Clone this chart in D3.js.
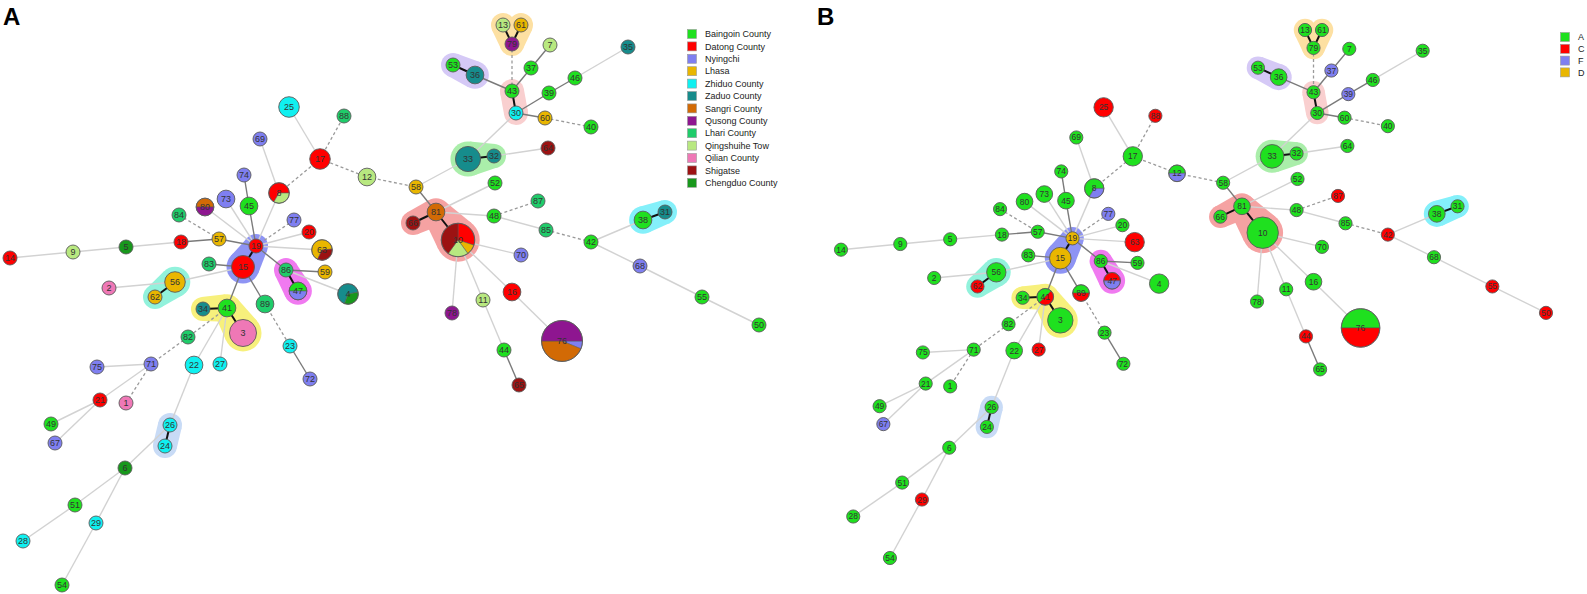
<!DOCTYPE html>
<html>
<head>
<meta charset="utf-8">
<script src="https://cdn.jsdelivr.net/npm/d3@7"></script>
<style>
body { margin: 0; background: #fff; }
text { font-family: "Liberation Sans", Arial, sans-serif; }
</style>
</head>
<body>
<svg width="1587" height="594"></svg>
<script>
// legend categories
const counties = ["Baingoin County", "Datong County", "Nyingchi", "Lhasa", "Zhiduo County", "Zaduo County",
    "Sangri County", "Qusong County", "Lhari County", "Qingshuihe Tow", "Qilian County", "Shigatse", "Chengduo County"];
const countyColors = ["#1fe01f", "#ff0000", "#7f7ff0", "#e9b600", "#10f0f0", "#168c8c",
    "#d26a05", "#8e1690", "#1fcc6a", "#b8e880", "#ef78b6", "#9c1212", "#18981c"];
const groups = ["A", "C", "F", "D"];
const groupColors = ["#1fe01f", "#ff0000", "#7f7ff0", "#e9b600"];

// ST layout (layout units)
const layout = [
    [1,126,403],[2,109,288],[3,243,333],[4,348,294],[5,126,247],[6,125,468],[7,550,45],[8,279,193],
    [9,73,252],[10,458,240],[11,483,300],[12,367,177],[13,503,25],[14,10,258],[15,243,267],[16,512,292],
    [17,320,159],[18,181,242],[19,256,246],[20,309,232],[21,100,400],[22,194,365],[23,290,346],[24,165,446],
    [25,289,107],[26,170,425],[27,220,364],[28,23,541],[29,96,523],[30,516,113],[31,665,212],[32,494,156],
    [33,468,159],[34,203,309],[35,628,47],[36,475,75],[37,531,68],[38,643,220],[39,549,93],[40,591,127],
    [41,227,308],[42,591,242],[43,512,91],[44,504,350],[45,249,206],[46,575,78],[47,298,291],[48,494,216],
    [49,51,424],[50,759,325],[51,75,505],[52,495,183],[53,453,65],[54,62,585],[55,702,297],[56,175,282],
    [57,219,239],[58,416,187],[59,325,272],[60,545,118],[61,521,25],[62,155,297],[63,322,250],[64,548,148],
    [65,519,385],[66,413,223],[67,55,443],[68,640,266],[69,260,139],[70,521,255],[71,151,364],[72,310,379],
    [73,226,199],[74,244,175],[75,97,367],[76,562,341],[77,294,220],[78,452,313],[79,512,44],[80,205,207],
    [81,436,212],[82,188,337],[83,209,264],[84,179,215],[85,546,230],[86,286,270],[87,538,201],[88,344,116],
    [89,265,304]
];

// isolates per ST and county (panel A)
const stCounty = [
    [1,"Qilian County",1],[2,"Qilian County",1],[3,"Qilian County",6],[4,"Zaduo County",2],[4,"Chengduo County",1],
    [5,"Chengduo County",1],[6,"Chengduo County",1],[7,"Qingshuihe Tow",1],[8,"Datong County",2],[8,"Qingshuihe Tow",1],
    [9,"Qingshuihe Tow",1],[10,"Datong County",3],[10,"Lhasa",1],[10,"Qingshuihe Tow",2],[10,"Shigatse",4],
    [11,"Qingshuihe Tow",1],[12,"Qingshuihe Tow",2],[13,"Qingshuihe Tow",1],[14,"Datong County",1],[15,"Datong County",4],
    [16,"Datong County",2],[17,"Datong County",3],[18,"Datong County",1],[19,"Datong County",1],[20,"Datong County",1],
    [21,"Datong County",1],[22,"Zhiduo County",2],[23,"Zhiduo County",1],[24,"Zhiduo County",1],[25,"Zhiduo County",3],
    [26,"Zhiduo County",1],[27,"Zhiduo County",1],[28,"Zhiduo County",1],[29,"Zhiduo County",1],[30,"Zhiduo County",1],
    [31,"Zaduo County",1],[32,"Zaduo County",1],[33,"Zaduo County",5],[34,"Zaduo County",1],[35,"Zaduo County",1],
    [36,"Zaduo County",2],[37,"Baingoin County",1],[38,"Baingoin County",2],[39,"Baingoin County",1],[40,"Baingoin County",1],
    [41,"Baingoin County",2],[42,"Baingoin County",1],[43,"Baingoin County",1],[44,"Baingoin County",1],[45,"Baingoin County",2],
    [46,"Baingoin County",1],[47,"Baingoin County",1],[47,"Nyingchi",1],[48,"Baingoin County",1],[49,"Baingoin County",1],
    [50,"Baingoin County",1],[51,"Baingoin County",1],[52,"Baingoin County",1],[53,"Baingoin County",1],[54,"Baingoin County",1],
    [55,"Baingoin County",1],[56,"Lhasa",3],[57,"Lhasa",1],[58,"Lhasa",1],[59,"Lhasa",1],[60,"Lhasa",1],[61,"Lhasa",1],
    [62,"Lhasa",1],[63,"Lhasa",2],[63,"Shigatse",1],[64,"Shigatse",1],[65,"Shigatse",1],[66,"Shigatse",1],
    [67,"Nyingchi",1],[68,"Nyingchi",1],[69,"Nyingchi",1],[70,"Nyingchi",1],[71,"Nyingchi",1],[72,"Nyingchi",1],
    [73,"Nyingchi",2],[74,"Nyingchi",1],[75,"Nyingchi",1],[76,"Nyingchi",1],[76,"Sangri County",7],[76,"Qusong County",8],
    [77,"Nyingchi",1],[78,"Qusong County",1],[79,"Qusong County",1],[80,"Sangri County",1],[80,"Qusong County",1],
    [81,"Sangri County",2],[82,"Lhari County",1],[83,"Lhari County",1],[84,"Lhari County",1],[85,"Lhari County",1],
    [86,"Lhari County",1],[87,"Lhari County",1],[88,"Lhari County",1],[89,"Lhari County",2]
];

// isolates per ST and group (panel B)
const stGroup = [
    [1,"A",1],[2,"A",1],[3,"A",6],[4,"A",3],[5,"A",1],[6,"A",1],[7,"A",1],[8,"A",2],[8,"F",1],[9,"A",1],
    [10,"A",10],[11,"A",1],[12,"A",1],[12,"F",1],[13,"A",1],[14,"A",1],[15,"D",4],[16,"A",2],[17,"A",3],
    [18,"A",1],[19,"D",1],[20,"A",1],[21,"A",1],[22,"A",2],[23,"A",1],[24,"A",1],[25,"C",3],[26,"A",1],
    [27,"C",1],[28,"A",1],[29,"C",1],[30,"A",1],[31,"A",1],[32,"A",1],[33,"A",5],[34,"A",1],[35,"A",1],
    [36,"A",2],[37,"F",1],[38,"A",2],[39,"F",1],[40,"A",1],[41,"A",1],[41,"C",1],[42,"C",1],[43,"A",1],
    [44,"C",1],[45,"A",2],[46,"A",1],[47,"C",1],[47,"F",1],[48,"A",1],[49,"A",1],[50,"C",1],[51,"A",1],
    [52,"A",1],[53,"A",1],[54,"A",1],[55,"C",1],[56,"A",3],[57,"A",1],[58,"A",1],[59,"A",1],[60,"A",1],
    [61,"A",1],[62,"C",1],[63,"C",3],[64,"A",1],[65,"A",1],[66,"A",1],[67,"F",1],[68,"A",1],[69,"A",1],
    [70,"A",1],[71,"A",1],[72,"A",1],[73,"A",2],[74,"A",1],[75,"A",1],[76,"A",8],[76,"C",8],[77,"F",1],
    [78,"A",1],[79,"A",1],[80,"A",2],[81,"A",2],[82,"A",1],[83,"A",1],[84,"A",1],[85,"A",1],[86,"A",1],
    [87,"C",1],[88,"C",1],[89,"A",1],[89,"C",1]
];

// tree links: source, target, kind
const links = [
    [14,9,"light"],[9,5,"light"],[5,18,"light"],[18,57,"gray"],[57,19,"gray"],[84,57,"dash"],[19,15,"thick"],
    [74,45,"gray"],[45,19,"gray"],[69,8,"light"],[8,19,"light"],[8,17,"dash"],[17,25,"light"],[17,88,"dash"],
    [17,12,"dash"],[12,58,"dash"],[73,19,"light"],[80,19,"light"],[77,19,"dash"],[20,19,"light"],[63,19,"light"],
    [19,86,"gray"],[86,47,"thick"],[86,59,"gray"],[86,4,"light"],[15,83,"gray"],[15,56,"light"],[56,62,"thick"],
    [56,2,"light"],[15,41,"gray"],[15,89,"gray"],[41,34,"thick"],[41,3,"thick"],[41,82,"dash"],[41,22,"light"],
    [41,27,"light"],[89,23,"dash"],[23,72,"gray"],[82,71,"dash"],[71,75,"light"],[71,21,"light"],[71,1,"dash"],
    [21,49,"light"],[21,67,"light"],[22,26,"light"],[26,24,"thick"],[26,6,"light"],[6,51,"light"],[6,29,"light"],
    [51,28,"light"],[29,54,"light"],
    [13,79,"thick"],[61,79,"thick"],[79,43,"dash"],[53,36,"thick"],[36,43,"gray"],[43,37,"gray"],[37,7,"gray"],
    [43,30,"thick"],[30,39,"gray"],[39,46,"gray"],[46,35,"light"],[30,60,"gray"],[60,40,"dash"],[30,33,"light"],
    [33,32,"thick"],[32,64,"light"],[33,58,"light"],[58,81,"gray"],[81,66,"thick"],[81,10,"thick"],[81,52,"light"],
    [81,48,"light"],[48,87,"dash"],[48,85,"light"],[85,42,"dash"],[42,38,"light"],[38,31,"thick"],[42,68,"light"],
    [68,55,"light"],[55,50,"light"],[10,70,"light"],[10,16,"light"],[16,76,"light"],[10,11,"light"],[11,44,"light"],
    [44,65,"gray"],[10,78,"light"]
];

// clonal complexes highlighted behind the tree
const complexes = [
    [[19,15], "#8e94f4"], [[86,47], "#f07af0"], [[56,62], "#92f2dc"], [[34,41,3], "#f7f07c"],
    [[26,24], "#c8dbf6"], [[13,79,61], "#fde0a2"], [[53,36], "#d5c9f6"], [[43,30], "#f9cfcf"],
    [[33,32], "#aaeeaa"], [[66,81,10], "#f5a2a2"], [[38,31], "#84f0fa"]
];

// pie rotation (degrees) for mixed STs
const pieStartA = {4: -160, 8: -150, 10: 0, 47: -90, 63: -155, 76: 90, 80: -90};
const pieStartB = {8: -150, 12: -90, 41: -135, 47: -90, 76: -90, 89: -90};

const svg = d3.select('svg');
svg.append('rect').attr('width', 1587).attr('height', 594).attr('fill', '#fff');

const rScale = d3.scaleSqrt().domain([1, 16]).range([7, 20.5]);
const linkStyle = {
    thick: {stroke: '#111', width: 2, dash: null},
    gray: {stroke: '#7a7a7a', width: 1.4, dash: null},
    light: {stroke: '#d2d2d2', width: 1.4, dash: null},
    dash: {stroke: '#9a9a9a', width: 1.3, dash: '3,2.5'}
};

const hullPath = (a, b) => {
    const dx = b.x - a.x, dy = b.y - a.y, d = Math.hypot(dx, dy);
    const th = Math.atan2(dy, dx), al = Math.acos((a.r - b.r) / d);
    const p = (c, ang) => [c.x + c.r * Math.cos(ang), c.y + c.r * Math.sin(ang)];
    const pts = [p(a, th + al), p(b, th + al), p(b, th - al), p(a, th - al)];
    return 'M' + pts.map(q => q.join(',')).join('L') + 'Z';
};

const render = cfg => {
    const xScale = d3.scaleLinear().domain([10, 759]).range(cfg.xRange);
    const yScale = d3.scaleLinear().domain([25, 585]).range(cfg.yRange);
    const k = cfg.k;

    const nodes = new Map();
    layout.forEach(([id, x, y]) => nodes.set(id, {id, x: xScale(x), y: yScale(y), parts: []}));
    cfg.comp.forEach(([id, cat, n]) => nodes.get(id).parts.push([cat, n]));
    nodes.forEach(nd => {
        nd.n = d3.sum(nd.parts, p => p[1]);
        nd.r = rScale(nd.n) * k;
    });

    const g = svg.append('g');

    // halos
    const hg = g.append('g');
    complexes.forEach(([ids, col]) => {
        const pad = 5 * k;
        const pts = ids.map(id => nodes.get(id)).map(nd => ({x: nd.x, y: nd.y, r: nd.r + pad}));
        pts.forEach(p => hg.append('circle').attr('cx', p.x).attr('cy', p.y).attr('r', p.r).attr('fill', col));
        links.filter(l => ids.includes(l[0]) && ids.includes(l[1])).forEach(l => {
            const a = pts[ids.indexOf(l[0])], b = pts[ids.indexOf(l[1])];
            hg.append('path').attr('d', hullPath(a, b)).attr('fill', col);
        });
    });

    // links
    g.append('g').selectAll('line').data(links).enter().append('line')
        .attr('x1', d => nodes.get(d[0]).x).attr('y1', d => nodes.get(d[0]).y)
        .attr('x2', d => nodes.get(d[1]).x).attr('y2', d => nodes.get(d[1]).y)
        .attr('stroke', d => linkStyle[d[2]].stroke)
        .attr('stroke-width', d => linkStyle[d[2]].width)
        .attr('stroke-dasharray', d => linkStyle[d[2]].dash);

    // nodes
    const arc = d3.arc().innerRadius(0);
    const ng = g.append('g').selectAll('g').data([...nodes.values()]).enter().append('g')
        .attr('transform', d => `translate(${d.x},${d.y})`);
    ng.each(function (d) {
        const el = d3.select(this);
        if (d.parts.length === 1) {
            el.append('circle').attr('r', d.r).attr('fill', cfg.color(d.parts[0][0]));
        } else {
            const s = (cfg.pieStart[d.id] || 0) * Math.PI / 180;
            const pie = d3.pie().sort(null).value(p => p[1]).startAngle(s).endAngle(s + 2 * Math.PI);
            el.selectAll('path').data(pie(d.parts)).enter().append('path')
                .attr('d', a => arc.outerRadius(d.r)(a))
                .attr('fill', a => cfg.color(a.data[0]))
                .attr('stroke', '#555').attr('stroke-width', 0.5);
        }
        el.append('circle').attr('r', d.r).attr('fill', 'none').attr('stroke', '#5a5a5a').attr('stroke-width', 0.9);
        el.append('text').text(d.id)
            .attr('text-anchor', 'middle').attr('dy', '0.35em')
            .attr('font-size', 9 * k).attr('fill', '#333');
    });

    // legend
    const lg = svg.append('g').attr('transform', `translate(${cfg.legend.x},${cfg.legend.y})`);
    const items = lg.selectAll('g').data(cfg.legend.cats).enter().append('g')
        .attr('transform', (d, i) => `translate(0,${i * cfg.legend.step})`);
    items.append('rect').attr('x', -4.5).attr('y', -4.5).attr('width', 9).attr('height', 9)
        .attr('fill', (d, i) => cfg.legend.colors[i]).attr('stroke', '#999').attr('stroke-width', 0.6);
    items.append('text').text(d => d).attr('x', 13).attr('dy', '0.35em')
        .attr('font-size', 9).attr('fill', '#222');

    svg.append('text').text(cfg.letter).attr('x', cfg.letterX).attr('y', 25)
        .attr('font-size', 24).attr('font-weight', 'bold').attr('fill', '#000');
};

const countyColor = d3.scaleOrdinal().domain(counties).range(countyColors);
const groupColor = d3.scaleOrdinal().domain(groups).range(groupColors);

render({
    letter: 'A', letterX: 3, xRange: [10, 759], yRange: [25, 585], k: 1,
    comp: stCounty, color: countyColor, pieStart: pieStartA,
    legend: {x: 692, y: 34, step: 12.4, cats: counties, colors: countyColors}
});
render({
    letter: 'B', letterX: 817, xRange: [841, 1546], yRange: [30, 558], k: 0.94,
    comp: stGroup, color: groupColor, pieStart: pieStartB,
    legend: {x: 1565, y: 37, step: 11.8, cats: groups, colors: groupColors}
});
</script>
</body>
</html>
